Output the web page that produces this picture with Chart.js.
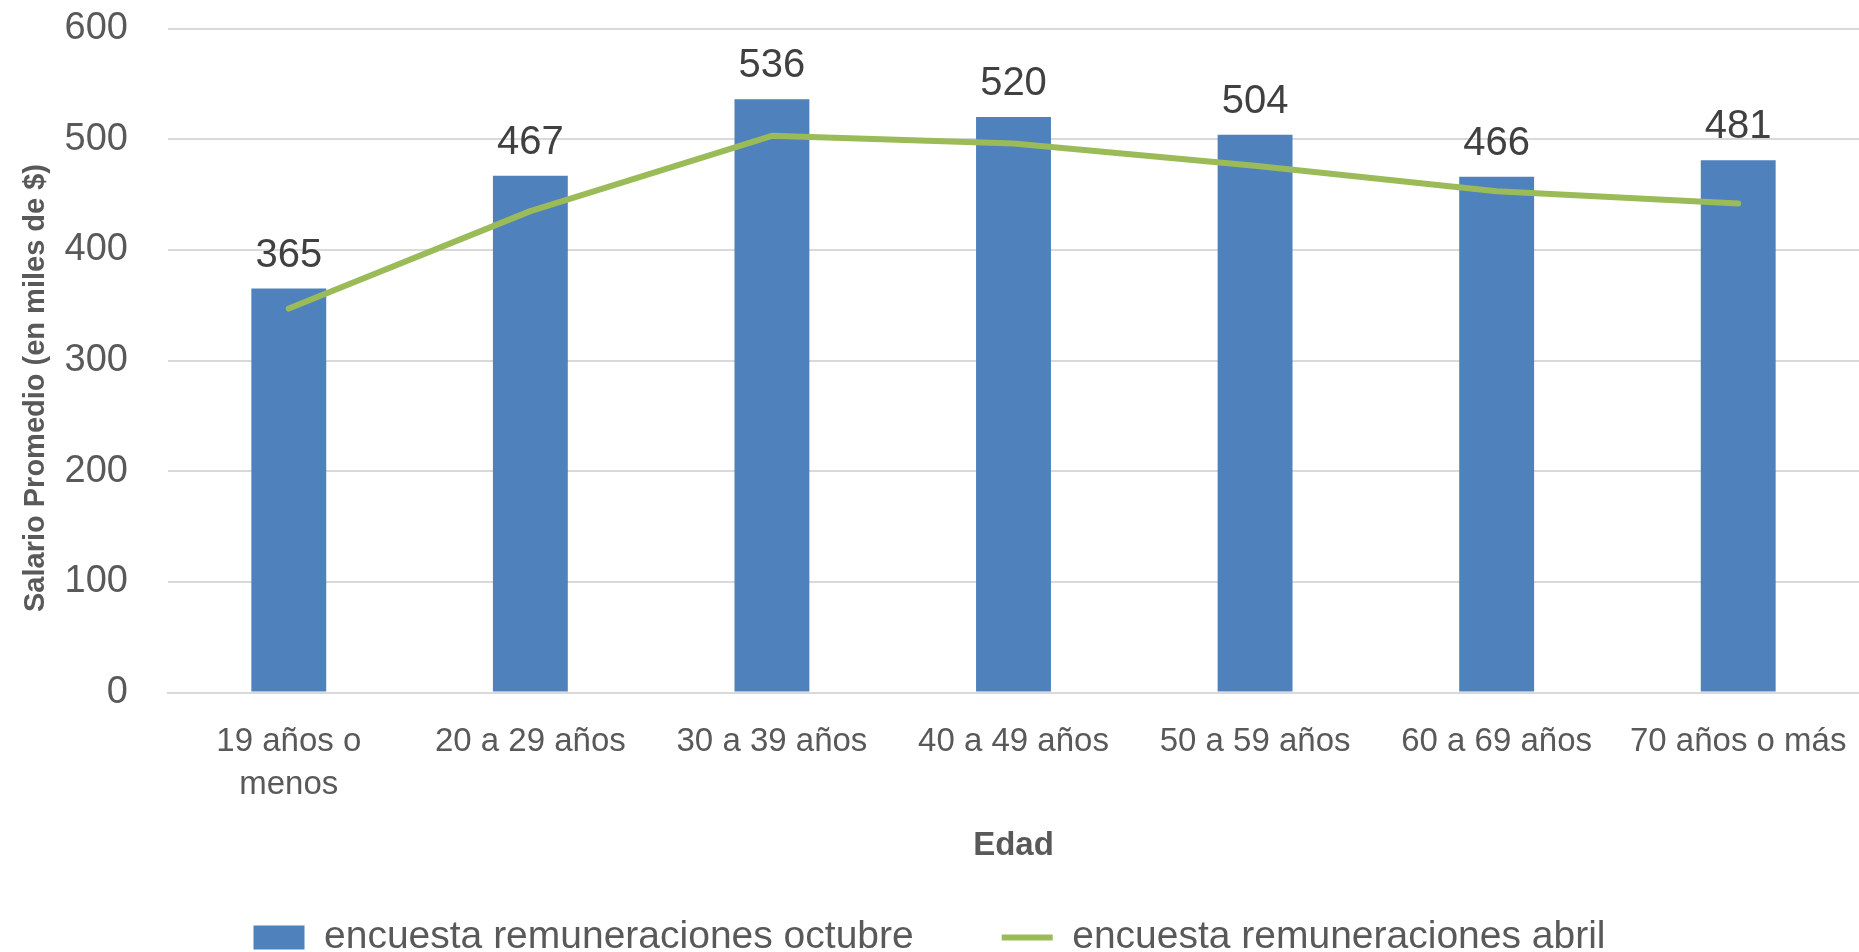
<!DOCTYPE html>
<html>
<head>
<meta charset="utf-8">
<script src="https://cdn.jsdelivr.net/npm/chart.js@4"></script>
<style>
html,body{margin:0;padding:0;background:#fff;}
#wrap{width:1859px;height:952px;}
</style>
</head>
<body>
<div id="wrap"><canvas id="c" width="1859" height="952"></canvas></div>
<script>
const categories = [['19 años o','menos'], '20 a 29 años', '30 a 39 años', '40 a 49 años', '50 a 59 años', '60 a 69 años', '70 años o más'];
const octubre = [365, 467, 536, 520, 504, 466, 481];
const abril = [347, 435, 503, 496, 476, 453, 442];
const seriesNames = ['encuesta remuneraciones octubre', 'encuesta remuneraciones abril'];
const yTicks = [0, 100, 200, 300, 400, 500, 600];
const yTitle = 'Salario Promedio (en miles de $)';
const xTitle = 'Edad';

const FONT = "'Liberation Sans', Arial, sans-serif";
const BLUE = '#4F81BD';
const GREEN = '#9BBB59';
const TXT = '#595959';

const dataLabels = {
  id: 'dataLabels',
  afterDatasetsDraw(chart) {
    const meta = chart.getDatasetMeta(0);
    const ctx = chart.ctx;
    ctx.save();
    ctx.font = '40px ' + FONT;
    ctx.fillStyle = '#404040';
    ctx.textAlign = 'center';
    ctx.textBaseline = 'middle';
    meta.data.forEach((bar, i) => {
      ctx.fillText(String(octubre[i]), bar.x, bar.y - 33);
    });
    ctx.restore();
  }
};

const yTitlePlugin = {
  id: 'yTitlePlugin',
  afterDraw(chart) {
    const ctx = chart.ctx;
    ctx.save();
    ctx.font = 'bold 29px ' + FONT;
    ctx.fillStyle = TXT;
    ctx.textAlign = 'center';
    ctx.textBaseline = 'middle';
    ctx.translate(36, 388);
    ctx.rotate(-Math.PI / 2);
    ctx.fillText(yTitle, 0, 0);
    ctx.restore();
  }
};

new Chart(document.getElementById('c'), {
  type: 'bar',
  data: {
    labels: categories,
    datasets: [
      {
        type: 'bar',
        label: seriesNames[0],
        data: octubre,
        backgroundColor: BLUE,
        borderWidth: 0,
        categoryPercentage: 1,
        barPercentage: 0.31,
        order: 1
      },
      {
        type: 'line',
        label: seriesNames[1],
        data: abril,
        borderColor: GREEN,
        backgroundColor: GREEN,
        borderWidth: 6,
        borderCapStyle: 'round',
        borderJoinStyle: 'round',
        pointRadius: 0,
        tension: 0,
        order: 0
      }
    ]
  },
  options: {
    responsive: false,
    animation: false,
    devicePixelRatio: 1,
    layout: { padding: { top: 28.5, right: 0, left: 0, bottom: -15 } },
    plugins: {
      tooltip: { enabled: false },
      legend: {
        position: 'bottom',
        labels: {
          usePointStyle: true,
          pointStyleWidth: 51,
          boxHeight: 24,
          padding: 88,
          color: TXT,
          font: { family: FONT, size: 39 },
          generateLabels(chart) {
            const items = Chart.defaults.plugins.legend.labels.generateLabels(chart);
            items.sort((a, b) => a.datasetIndex - b.datasetIndex);
            items.forEach((it) => {
              if (it.datasetIndex === 0) { it.pointStyle = 'rect'; it.lineWidth = 0; it.fillStyle = BLUE; it.strokeStyle = BLUE; }
              else { it.pointStyle = 'line'; it.lineWidth = 6; it.strokeStyle = GREEN; it.fillStyle = GREEN; }
            });
            return items;
          }
        }
      }
    },
    scales: {
      x: {
        grid: { display: false, drawTicks: false },
        border: { display: true, color: '#D9D9D9', width: 2 },
        ticks: {
          color: TXT,
          font: { family: FONT, size: 33, lineHeight: 1.3 },
          padding: 28,
          maxRotation: 0,
          autoSkip: false
        },
        title: {
          display: true,
          text: xTitle,
          color: TXT,
          font: { family: FONT, size: 33, weight: 'bold' },
          padding: { top: 0, bottom: -36 }
        },
        afterFit(scale) { scale.height = 137.4; scale.paddingLeft = 0; scale.paddingRight = 0; }
      },
      y: {
        min: 0,
        max: 600,
        afterBuildTicks(scale) { scale.ticks = yTicks.map(v => ({ value: v })); },
        grid: { color: '#D9D9D9', lineWidth: 2, drawTicks: false },
        border: { display: false },
        ticks: {
          color: TXT,
          font: { family: FONT, size: 38 },
          padding: 40
        },
        title: { display: false },
        afterFit(scale) { scale.width = 168; scale.paddingTop = 0; scale.paddingBottom = 0; }
      }
    }
  },
  plugins: [dataLabels, yTitlePlugin]
});
</script>
</body>
</html>
